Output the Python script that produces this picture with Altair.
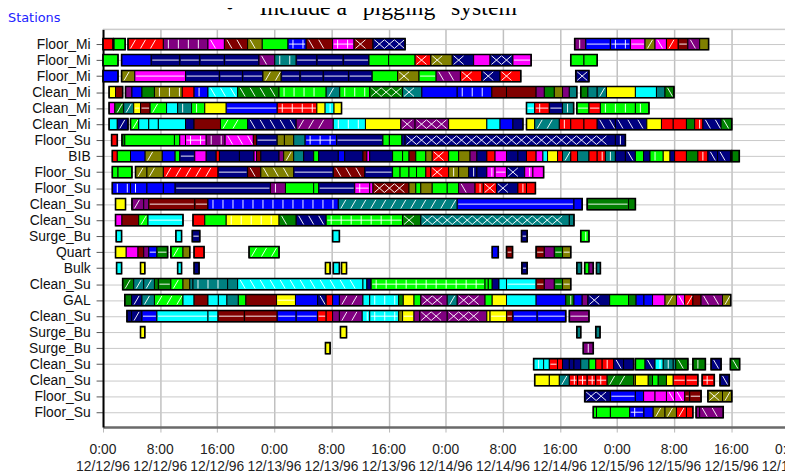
import json
import altair as alt
import pandas as pd

# ---------------- data (hours since 12/12/96 0:00) ----------------
row_labels = ["Floor_Mi", "Floor_Mi", "Floor_Mi", "Clean_Mi", "Clean_Mi", "Clean_Mi",
              "Floor_Su", "BIB", "Floor_Su", "Floor_Su", "Clean_Su", "Clean_Su",
              "Surge_Bu", "Quart", "Bulk", "Clean_Su", "GAL", "Clean_Su",
              "Surge_Bu", "Surge_Bu", "Clean_Su", "Clean_Su", "Floor_Su", "Floor_Su"]

palette = {"R": "#FF0000", "G": "#00FF00", "B": "#0000FF", "N": "#000080",
           "P": "#800080", "M": "#FF00FF", "D": "#800000", "O": "#808000",
           "DG": "#008000", "T": "#008080", "C": "#00FFFF", "Y": "#FFFF00"}

# pattern codes: s solid, f '/', b '\', v '|', h '=', p '+', x diamond
row_0 = [(0.0, [(1.4, 'R', 's')]), (1.5, [(3.1, 'G', 's')]),
         (3.5, [(8.45, 'R', 'f'), (14.7, 'P', 'v'), (17.0, 'M', 'b'), (20.25, 'D', 'b'), (22.3, 'O', 'b'), (25.9, 'G', 's'), (28.45, 'B', 'p'), (32.15, 'D', 'b'), (35.15, 'M', 'p'), (37.8, 'D', 'x'), (42.3, 'N', 'x')]),
         (66.05, [(67.6, 'P', 'v'), (71.05, 'B', 'h'), (73.85, 'B', 'p'), (75.9, 'M', 'h'), (77.3, 'O', 'f'), (78.9, 'M', 'b'), (80.55, 'R', 'f'), (81.9, 'D', 'h'), (83.55, 'P', 'b'), (84.8, 'O', 'x')])]
row_1 = [(0.0, [(2.1, 'G', 's')]),
         (2.6, [(6.75, 'B', 's'), (10.75, 'N', 'h'), (13.55, 'N', 'h'), (17.0, 'N', 'h'), (21.85, 'N', 'h'), (24.05, 'P', 'b'), (27.05, 'T', 'v'), (29.95, 'N', 'h'), (33.65, 'N', 'h'), (37.25, 'N', 'h'), (40.0, 'G', 's'), (43.7, 'G', 's'), (45.9, 'R', 'x'), (48.9, 'O', 'x'), (51.9, 'N', 'x'), (54.2, 'M', 's'), (57.4, 'N', 'x'), (59.95, 'M', 'h')]),
         (65.5, [(67.35, 'G', 's'), (69.2, 'G', 's')])]
row_2 = [(0.0, [(2.1, 'B', 's')]),
         (2.6, [(4.45, 'O', 'f'), (11.55, 'M', 'h'), (16.3, 'N', 'h'), (19.55, 'N', 'h'), (22.4, 'N', 'h'), (24.95, 'O', 'f'), (27.6, 'N', 'h'), (30.85, 'N', 'h'), (34.4, 'N', 'h'), (37.7, 'N', 'h'), (41.25, 'G', 's'), (44.25, 'O', 'x'), (46.65, 'G', 'h'), (50.05, 'P', 'b'), (53.05, 'R', 'x'), (55.6, 'N', 'x'), (58.5, 'R', 'x')]),
         (66.2, [(68.05, 'N', 'x')])]
row_3 = [(0.85, [(1.75, 'Y', 's'), (2.75, 'D', 's')]),
         (3.15, [(4.05, 'P', 'f'), (5.45, 'B', 's'), (7.2, 'DG', 's'), (11.1, 'O', 'v'), (12.75, 'R', 's'), (14.7, 'B', 'v'), (18.85, 'C', 'b'), (24.65, 'DG', 'b'), (31.25, 'G', 'v'), (33.15, 'T', 'f'), (37.35, 'G', 'v'), (41.95, 'DG', 'x'), (44.65, 'T', 'x'), (49.6, 'B', 's'), (54.45, 'B', 'v'), (56.5, 'D', 's'), (60.65, 'D', 's'), (61.8, 'P', 'x'), (63.2, 'DG', 's'), (64.35, 'O', 's'), (65.3, 'P', 's'), (66.35, 'T', 's')]),
         (66.9, [(67.9, 'DG', 's'), (69.2, 'T', 's'), (70.5, 'T', 'f'), (74.55, 'Y', 's'), (77.5, 'C', 's'), (78.7, 'T', 's'), (79.95, 'DG', 'b')])]
row_4 = [(0.85, [(1.65, 'M', 's'), (2.9, 'DG', 'f'), (4.3, 'T', 'f'), (5.25, 'Y', 'h'), (6.6, 'D', 'h'), (8.9, 'G', 'f'), (10.45, 'C', 's'), (12.4, 'T', 'v'), (14.25, 'G', 'v'), (17.25, 'Y', 's'), (24.4, 'B', 'h'), (29.95, 'R', 'p'), (31.1, 'Y', 's'), (32.35, 'C', 'v'), (33.4, 'Y', 's')]),
         (59.3, [(60.45, 'C', 'h'), (62.5, 'R', 'p'), (64.35, 'N', 'h'), (65.9, 'T', 'v')]),
         (66.35, [(68.05, 'G', 'h'), (69.65, 'R', 'h'), (74.55, 'G', 'v'), (76.45, 'G', 'v')])]
row_5 = [(0.85, [(2.0, 'C', 's'), (3.5, 'N', 'f')]),
         (3.85, [(5.0, 'G', 'f'), (6.4, 'C', 's'), (7.75, 'C', 's'), (11.55, 'C', 's'), (12.75, 'N', 's'), (16.45, 'D', 's'), (20.25, 'G', 'f'), (27.05, 'N', 'b'), (32.25, 'P', 'f'), (36.75, 'C', 'v'), (41.7, 'Y', 's'), (43.7, 'P', 'x'), (48.4, 'P', 'x'), (53.75, 'Y', 's'), (55.6, 'C', 's'), (57.4, 'B', 's'), (58.8, 'N', 's')]),
         (59.3, [(60.45, 'Y', 's'), (63.9, 'T', 'f'), (65.5, 'R', 'v'), (67.35, 'R', 's'), (69.2, 'R', 's'), (71.75, 'N', 'b'), (76.15, 'N', 'b'), (78.2, 'Y', 's'), (79.85, 'R', 's'), (81.7, 'R', 's'), (82.85, 'DG', 's'), (84.0, 'R', 'v'), (86.55, 'N', 'b'), (88.05, 'DG', 'b')])]
row_6 = [(1.2, [(2.0, 'R', 's')]),
         (2.65, [(3.05, 'DG', 's'), (10.0, 'G', 's'), (10.75, 'G', 's'), (11.55, 'M', 's'), (14.45, 'M', 'p'), (17.1, 'P', 'v'), (21.05, 'M', 'b'), (21.5, 'D', 's'), (24.4, 'N', 'h'), (25.4, 'O', 'f'), (26.7, 'O', 's'), (28.3, 'T', 's'), (32.7, 'B', 'p'), (39.2, 'N', 'h'), (40.1, 'G', 's'), (41.85, 'G', 's'), (42.3, 'N', 's'), (71.75, 'N', 'x'), (73.15, 'N', 'v')])]
row_7 = [(1.3, [(2.0, 'R', 's'), (3.85, 'G', 's'), (5.9, 'B', 's'), (8.3, 'O', 'f'), (10.1, 'B', 's'), (10.75, 'G', 's'), (12.85, 'N', 'h'), (14.45, 'M', 's'), (15.85, 'N', 's'), (16.3, 'R', 's'), (19.1, 'N', 's'), (21.15, 'N', 's'), (21.5, 'M', 's'), (22.1, 'D', 's'), (24.65, 'N', 's'), (25.3, 'P', 's'), (26.7, 'O', 'f'), (28.1, 'T', 's'), (29.5, 'N', 's'), (30.2, 'G', 's'), (32.95, 'N', 's'), (33.85, 'B', 's'), (36.4, 'N', 's'), (36.95, 'D', 's'), (37.35, 'M', 's'), (40.55, 'N', 's'), (41.95, 'G', 's'), (42.85, 'G', 's'), (43.8, 'D', 'x'), (45.2, 'G', 's'), (46.1, 'O', 'x'), (48.4, 'R', 'x'), (49.8, 'G', 's'), (51.4, 'O', 'x'), (52.35, 'P', 'b'), (53.75, 'N', 'x'), (54.9, 'R', 'x'), (56.5, 'M', 's'), (58.1, 'N', 'x'), (59.3, 'N', 'x'), (60.65, 'R', 'x'), (61.6, 'M', 's'), (62.25, 'C', 's'), (63.65, 'Y', 's'), (64.35, 'R', 's'), (65.5, 'T', 'f'), (66.45, 'R', 'v'), (68.05, 'T', 's'), (69.2, 'R', 's'), (70.35, 'R', 'v'), (71.75, 'T', 'v'), (73.15, 'N', 'x'), (74.55, 'N', 'b'), (75.7, 'G', 's'), (76.6, 'N', 'b'), (78.45, 'G', 'v'), (79.4, 'Y', 's'), (80.05, 'N', 's'), (81.7, 'R', 's'), (83.3, 'DG', 's'), (84.7, 'R', 'v'), (86.05, 'N', 'b'), (87.9, 'N', 'b')]),
         (88.05, [(89.1, 'DG', 'b')])]
row_8 = [(1.3, [(2.1, 'G', 's'), (4.05, 'G', 's')]),
         (4.55, [(6.15, 'O', 'f'), (8.45, 'O', 'f'), (16.1, 'R', 'f'), (20.25, 'N', 'h'), (22.1, 'D', 'b'), (26.7, 'O', 'b'), (32.25, 'N', 'h'), (36.65, 'D', 'b'), (40.55, 'N', 'h'), (41.6, 'G', 's'), (42.85, 'G', 's'), (43.9, 'G', 's'), (45.2, 'G', 's'), (45.9, 'R', 'v'), (48.4, 'R', 'x'), (49.8, 'O', 'v'), (51.2, 'O', 'x'), (52.35, 'N', 'v'), (53.75, 'N', 'x'), (54.9, 'M', 'v'), (56.5, 'M', 'h'), (59.05, 'N', 'x'), (60.2, 'M', 'v'), (61.7, 'M', 's')])]
row_9 = [(1.3, [(3.85, 'B', 'v'), (6.15, 'B', 'v'), (8.45, 'B', 's'), (10.1, 'B', 's'), (23.45, 'N', 'h'), (25.55, 'P', 'v'), (29.5, 'G', 's'), (30.2, 'G', 's'), (35.25, 'N', 'h'), (37.35, 'M', 'p'), (37.8, 'M', 's'), (42.85, 'D', 'x'), (43.8, 'O', 's'), (44.5, 'G', 's'), (46.1, 'O', 'x'), (48.2, 'G', 's'), (49.8, 'G', 's'), (52.1, 'P', 'b'), (53.25, 'R', 'v'), (55.1, 'R', 'x'), (58.1, 'N', 'x'), (59.3, 'R', 'v'), (60.55, 'R', 'x')])]
row_10 = [(1.75, [(3.15, 'Y', 's')]),
          (4.05, [(5.7, 'P', 'f'), (6.4, 'P', 'v'), (12.85, 'D', 'h'), (14.7, 'D', 'h'), (32.95, 'B', 'v'), (49.6, 'T', 'f'), (65.95, 'B', 'h'), (67.1, 'B', 's')]),
          (67.8, [(73.6, 'DG', 'h'), (74.55, 'DG', 's')])]
row_11 = [(1.75, [(2.65, 'M', 's'), (5.0, 'D', 's'), (6.3, 'G', 'f'), (11.2, 'C', 'h')]),
          (12.6, [(14.25, 'R', 's'), (17.25, 'G', 's'), (24.65, 'Y', 'v'), (27.05, 'DG', 'b'), (31.25, 'N', 'b'), (41.95, 'G', 'p'), (44.5, 'DG', 'x'), (65.3, 'T', 'x'), (65.95, 'T', 's')])]
row_12 = [(1.85, [(2.6, 'C', 's')]), (10.2, [(11.0, 'C', 's')]), (12.5, [(13.55, 'N', 'h')]),
          (32.15, [(33.1, 'C', 's')]), (58.6, [(59.4, 'N', 'h')]), (66.9, [(68.05, 'G', 'v')])]
row_13 = [(1.75, [(3.25, 'Y', 's'), (4.9, 'M', 's'), (5.7, 'D', 's'), (6.4, 'P', 'f'), (7.55, 'B', 'h'), (9.05, 'DG', 'h')]),
          (9.5, [(11.2, 'G', 'f'), (12.15, 'O', 's')]), (12.75, [(14.15, 'R', 's')]), (20.45, [(24.65, 'G', 'f')]),
          (54.5, [(55.35, 'B', 's')]), (56.5, [(57.35, 'D', 'h')]),
          (60.65, [(61.8, 'D', 'h'), (63.2, 'P', 'x'), (64.35, 'DG', 'h'), (65.5, 'O', 'h')])]
row_14 = [(1.9, [(2.6, 'C', 's')]), (5.25, [(5.85, 'Y', 's')]), (10.45, [(11.0, 'C', 's')]), (12.75, [(13.45, 'N', 's')]),
          (31.15, [(31.8, 'Y', 's')]), (32.25, [(33.1, 'C', 's')]), (33.4, [(34.1, 'Y', 's')]), (58.65, [(59.4, 'N', 'h')]),
          (66.35, [(67.0, 'T', 's')]), (67.45, [(68.05, 'G', 's'), (68.65, 'P', 's')]), (69.1, [(69.65, 'T', 's')])]
row_15 = [(2.75, [(4.3, 'DG', 'f'), (5.7, 'T', 'f'), (7.2, 'T', 'f'), (7.75, 'DG', 's'), (9.5, 'DG', 'h'), (11.2, 'G', 'f'), (12.15, 'O', 's'), (12.6, 'T', 's'), (17.45, 'T', 'v'), (18.85, 'T', 's'), (36.4, 'C', 'b'), (36.95, 'C', 's'), (37.55, 'N', 's'), (53.5, 'G', 'p'), (53.95, 'G', 's'), (54.5, 'G', 's'), (55.45, 'N', 's'), (56.5, 'C', 'v'), (60.65, 'C', 'h'), (61.8, 'D', 'h'), (63.2, 'P', 'x'), (64.35, 'DG', 'h'), (65.5, 'O', 'h')])]
row_16 = [(3.05, [(4.0, 'DG', 's'), (5.45, 'N', 'f'), (7.2, 'T', 'f'), (11.2, 'G', 'f'), (12.75, 'C', 's'), (14.7, 'D', 's'), (16.15, 'C', 's'), (17.35, 'C', 's'), (18.95, 'T', 's'), (20.0, 'G', 's'), (24.3, 'D', 's'), (26.95, 'Y', 'h'), (30.05, 'B', 's'), (31.25, 'N', 'b'), (32.15, 'R', 's'), (33.1, 'B', 'v'), (36.4, 'P', 'f'), (37.35, 'C', 'b'), (41.4, 'C', 'v'), (42.05, 'DG', 's'), (43.55, 'Y', 's'), (44.5, 'G', 's'), (48.2, 'P', 'x'), (49.6, 'T', 'f'), (53.5, 'P', 'x'), (54.5, 'G', 'v'), (56.5, 'Y', 's'), (60.65, 'C', 's'), (64.8, 'B', 's'), (65.95, 'DG', 'v'), (67.1, 'B', 's'), (67.9, 'P', 's'), (70.95, 'N', 'x'), (73.6, 'G', 's'), (74.65, 'DG', 's'), (75.75, 'B', 's'), (76.95, 'B', 's'), (78.7, 'M', 's'), (80.3, 'O', 'f'), (81.45, 'M', 'b'), (82.6, 'R', 'f'), (83.75, 'D', 's'), (86.75, 'P', 'b'), (87.9, 'O', 'f')])]
row_17 = [(3.35, [(4.0, 'N', 'v'), (5.45, 'N', 'f'), (7.55, 'B', 'h'), (14.7, 'C', 'h'), (16.1, 'C', 'h'), (19.8, 'D', 'h'), (24.4, 'D', 'h'), (27.05, 'B', 'h'), (30.05, 'B', 'h'), (31.25, 'R', 'h'), (32.15, 'R', 's'), (33.1, 'P', 'f'), (36.3, 'P', 'f'), (37.35, 'C', 'v'), (41.4, 'C', 'p'), (41.95, 'O', 'v'), (43.55, 'Y', 'h'), (44.35, 'P', 'v'), (48.2, 'P', 'x'), (53.75, 'P', 'x'), (54.2, 'Y', 'v'), (56.5, 'Y', 'h'), (57.4, 'D', 'h'), (60.8, 'B', 'h'), (64.8, 'B', 'h')]),
          (65.3, [(68.05, 'P', 'h')])]
row_18 = [(5.25, [(5.85, 'Y', 's')]), (33.25, [(34.1, 'Y', 's')]), (66.35, [(66.9, 'T', 's')]), (69.0, [(69.6, 'T', 's')])]
row_19 = [(31.15, [(31.8, 'Y', 's')]), (67.25, [(68.65, 'P', 'v')])]
row_20 = [(60.3, [(61.7, 'C', 'v'), (62.5, 'C', 's'), (63.65, 'R', 'h'), (64.35, 'R', 'v'), (65.3, 'N', 'v'), (65.95, 'N', 's'), (66.9, 'N', 'v'), (68.05, 'T', 's'), (69.0, 'G', 'v'), (69.9, 'R', 's'), (71.5, 'R', 'v'), (72.9, 'N', 'b'), (74.3, 'N', 'x')]),
          (74.55, [(75.9, 'G', 's'), (77.3, 'N', 'b'), (78.45, 'C', 'v'), (79.85, 'T', 'v'), (80.2, 'T', 's'), (81.9, 'DG', 'b')]),
          (82.6, [(84.35, 'DG', 'v')]), (85.15, [(86.55, 'N', 'b')]), (87.85, [(89.15, 'DG', 'b')])]
row_21 = [(60.45, [(62.5, 'Y', 's'), (63.9, 'Y', 's'), (65.3, 'T', 'f'), (66.45, 'R', 'p'), (67.8, 'R', 'p'), (69.0, 'R', 'p'), (70.6, 'R', 'p'), (74.3, 'DG', 'f'), (74.55, 'O', 's'), (76.35, 'Y', 's'), (76.95, 'DG', 's'), (77.75, 'G', 'v'), (78.9, 'DG', 's'), (79.85, 'Y', 's'), (81.6, 'R', 'h'), (83.3, 'R', 'h')]),
          (83.9, [(85.6, 'R', 'p')]), (86.4, [(87.7, 'N', 'b')])]
row_22 = [(67.45, [(71.05, 'N', 'x'), (74.55, 'B', 'h'), (75.7, 'B', 's'), (77.3, 'M', 's'), (78.9, 'M', 's'), (80.05, 'M', 'b'), (81.45, 'M', 'b'), (82.15, 'D', 'h'), (83.75, 'D', 'h')]),
          (84.7, [(86.75, 'O', 'x'), (88.05, 'O', 'f')])]
row_23 = [(68.65, [(69.1, 'G', 'v'), (71.05, 'G', 's'), (73.75, 'G', 's'), (75.75, 'B', 'p'), (77.05, 'B', 's'), (78.7, 'O', 'f'), (80.3, 'O', 'f'), (81.7, 'R', 'f'), (82.6, 'R', 'f')]),
          (83.05, [(83.55, 'P', 's'), (86.85, 'P', 'b')])]

rows = [row_0, row_1, row_2, row_3, row_4, row_5, row_6, row_7, row_8, row_9, row_10, row_11,
        row_12, row_13, row_14, row_15, row_16, row_17, row_18, row_19, row_20, row_21, row_22, row_23]

tick_hours = [0, 8, 16, 24, 32, 40, 48, 56, 64, 72, 80, 88, 96]
tick_times = ["0:00", "8:00", "16:00"] * 4 + ["0:00"]
tick_dates = ["12/12/96"] * 3 + ["12/13/96"] * 3 + ["12/14/96"] * 3 + ["12/15/96"] * 3 + ["12/16/96"]

# ---------------- build tables ----------------
HALF = 0.35
HT = 0.27
STEP = 1.4
segs, groups, hatch = [], [], []
for r, grp in enumerate(rows):
    for start, parts in grp:
        s = start
        for end, c, p in parts:
            segs.append(dict(s=s, e=end, y0=r - HALF, y1=r + HALF, hex=palette[c]))
            if p == "x":
                x = s + 0.2
                while x + STEP <= end - 0.1:
                    hatch.append(dict(a=x, b=x + STEP, ya=r + HT, yb=r - HT))
                    hatch.append(dict(a=x, b=x + STEP, ya=r - HT, yb=r + HT))
                    x += STEP
            if p == "f":
                x = s + 0.35
                while x + 0.7 <= end - 0.1:
                    hatch.append(dict(a=x, b=x + 0.7, ya=r + HT, yb=r - HT))
                    x += STEP
            if p == "b":
                x = s + 0.35
                while x + 0.7 <= end - 0.1:
                    hatch.append(dict(a=x, b=x + 0.7, ya=r - HT, yb=r + HT))
                    x += STEP
            if p in ("v", "p"):
                x = s + 0.7
                while x <= end - 0.35:
                    hatch.append(dict(a=x, b=x, ya=r - HT, yb=r + HT))
                    x += STEP
            if p in ("h", "p"):
                hatch.append(dict(a=s + 0.15, b=end - 0.15, ya=r, yb=r))
            s = end
        groups.append(dict(s=start, e=s, y0=r - HALF, y1=r + HALF))

seg_df = pd.DataFrame(segs)
grp_df = pd.DataFrame(groups)
hatch_df = pd.DataFrame(hatch)
tick_df = pd.DataFrame({"h": tick_hours, "t": tick_times, "d": tick_dates})

W, H = 689, 402
xscale = alt.Scale(domain=[0, 95.5], nice=False, zero=False)
yscale = alt.Scale(domain=[-0.93, 23.93], reverse=True, nice=False, zero=False)
label_expr = json.dumps(row_labels) + "[datum.value]"

yaxis = alt.Axis(values=list(range(24)), labelExpr=label_expr, title=None, grid=True,
                 gridColor="#c8c8c8", gridWidth=1, domainColor="#000000", domainWidth=2,
                 tickColor="#555555", tickSize=7, labelFont="Liberation Sans", labelFontSize=14,
                 labelColor="#111111", labelPadding=6, labelOverlap=False, labelBound=False,
                 labelFlush=False)
xaxis = alt.Axis(values=list(range(0, 96, 8)), labels=False, title=None, grid=True,
                 gridColor="#c0c0c0", gridWidth=1.5, domainColor="#6a6a6a", domainWidth=2.5,
                 tickColor="#b8b8b8", tickSize=5)

bars = alt.Chart(seg_df).mark_rect(stroke="#000000", strokeWidth=1).encode(
    x=alt.X("s:Q", scale=xscale, axis=xaxis),
    x2="e:Q",
    y=alt.Y("y0:Q", scale=yscale, axis=yaxis),
    y2="y1:Q",
    fill=alt.Fill("hex:N", scale=None),
)

lines = alt.Chart(hatch_df).mark_rule(color="#ffffff", strokeWidth=1, opacity=0.95).encode(
    x=alt.X("a:Q", scale=xscale, axis=xaxis), x2="b:Q",
    y=alt.Y("ya:Q", scale=yscale, axis=yaxis), y2="yb:Q",
)

outline = alt.Chart(grp_df).mark_rect(filled=False, stroke="#000000", strokeWidth=1.6).encode(
    x=alt.X("s:Q", scale=xscale, axis=xaxis), x2="e:Q",
    y=alt.Y("y0:Q", scale=yscale, axis=yaxis), y2="y1:Q",
)

one = pd.DataFrame({"k": [0]})
top_line = alt.Chart(one).mark_rule(color="#c0c0c0", strokeWidth=1).encode(
    x=alt.value(0), x2=alt.value(W), y=alt.value(0))

lab1 = alt.Chart(tick_df).mark_text(font="Liberation Sans", fontSize=14, color="#222222",
                                    align="center", baseline="middle").encode(
    x=alt.X("h:Q", scale=xscale, axis=xaxis), y=alt.value(425), text="t:N")
lab2 = alt.Chart(tick_df).mark_text(font="Liberation Sans", fontSize=14, color="#222222",
                                    align="center", baseline="middle").encode(
    x=alt.X("h:Q", scale=xscale, axis=xaxis), y=alt.value(442), text="d:N")

stations = alt.Chart(pd.DataFrame({"t": ["Stations"]})).mark_text(
    font="DejaVu Sans", fontSize=13, color="#2222ff", align="left", baseline="alphabetic").encode(
    x=alt.value(-96), y=alt.value(-7), text="t:N")
bullet = alt.Chart(pd.DataFrame({"t": ["\u2022"]})).mark_text(
    font="Liberation Serif", fontSize=24, color="#000000", align="left", baseline="alphabetic").encode(
    x=alt.value(124), y=alt.value(-14), text="t:N")
title = alt.Chart(pd.DataFrame({"t": ['Include a "pigging" system']})).mark_text(
    font="Liberation Serif", fontSize=24, color="#000000", align="left", baseline="alphabetic").encode(
    x=alt.value(158), y=alt.value(-14), text="t:N")

chart = alt.layer(bars, top_line, lines, outline, lab1, lab2, stations, bullet, title).properties(
    width=W, height=H,
    padding={"left": 96, "top": 19, "right": 0, "bottom": 48},
    autosize=alt.AutoSizeParams(type="none"),
).configure_view(stroke=None).configure_axisY(labelOverlap=False).configure(background="#ffffff")

chart.save("out.html", embed_options={"renderer": "svg", "actions": False})
